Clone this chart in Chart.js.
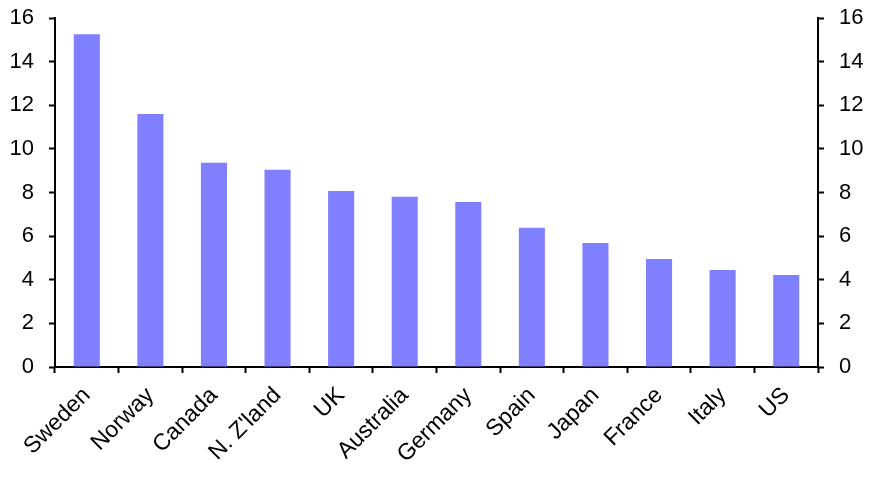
<!DOCTYPE html>
<html>
<head>
<meta charset="utf-8">
<script src="https://cdn.jsdelivr.net/npm/chart.js@4"></script>
<style>
  html, body { margin: 0; padding: 0; background: #fff; }
  #wrap { width: 874px; height: 482px; position: relative; }
</style>
</head>
<body>
<div id="wrap"><canvas id="chart"></canvas></div>
<script>
// Countries, sorted as in the source
const countries = ['Sweden', 'Norway', 'Canada', "N. Z'land", 'UK', 'Australia',
    'Germany', 'Spain', 'Japan', 'France', 'Italy', 'US'];
const values = [15.25, 11.6, 9.36, 9.04, 8.07, 7.8, 7.57, 6.38, 5.69, 4.95, 4.45, 4.22];
const yMin = 0, yMax = 16, yStep = 2;

const BAR = '#8080ff';
const FONT = { family: '"Liberation Sans", Arial, sans-serif', size: 22 };

// fixed axis box sizes so the plot area lands where the original has it
const axisY = (position, width) => ({
    position,
    min: yMin,
    max: yMax,
    ticks: { stepSize: yStep, color: '#000', font: FONT, padding: 15 },
    grid: { drawOnChartArea: false, drawTicks: true, tickLength: 6, color: '#000', tickWidth: 2 },
    border: { display: true, color: '#000', width: 2 },
    afterFit: s => { s.width = width; s.paddingTop = 0; s.paddingBottom = 0; }
});

new Chart(document.getElementById('chart'), {
    type: 'bar',
    data: {
        labels: countries,
        datasets: [{
            data: values,
            backgroundColor: BAR,
            borderWidth: 0,
            categoryPercentage: 1,
            barPercentage: 0.41
        }]
    },
    options: {
        responsive: true,
        maintainAspectRatio: false,
        animation: false,
        layout: { padding: { top: 18, right: 0, bottom: 0, left: 0 } },
        plugins: { legend: { display: false }, tooltip: { enabled: false } },
        scales: {
            x: {
                offset: true,
                ticks: { color: '#000', font: { ...FONT, size: 23 }, minRotation: 45, maxRotation: 45, padding: 9 },
                grid: { offset: true, drawOnChartArea: false, drawTicks: true, tickLength: 6, color: '#000', tickWidth: 2 },
                border: { display: true, color: '#000', width: 2 },
                afterFit: s => { s.height = 115; s.paddingLeft = 0; s.paddingRight = 0; }
            },
            y: axisY('left', 55),
            y2: axisY('right', 56)
        }
    }
});
</script>
</body>
</html>
